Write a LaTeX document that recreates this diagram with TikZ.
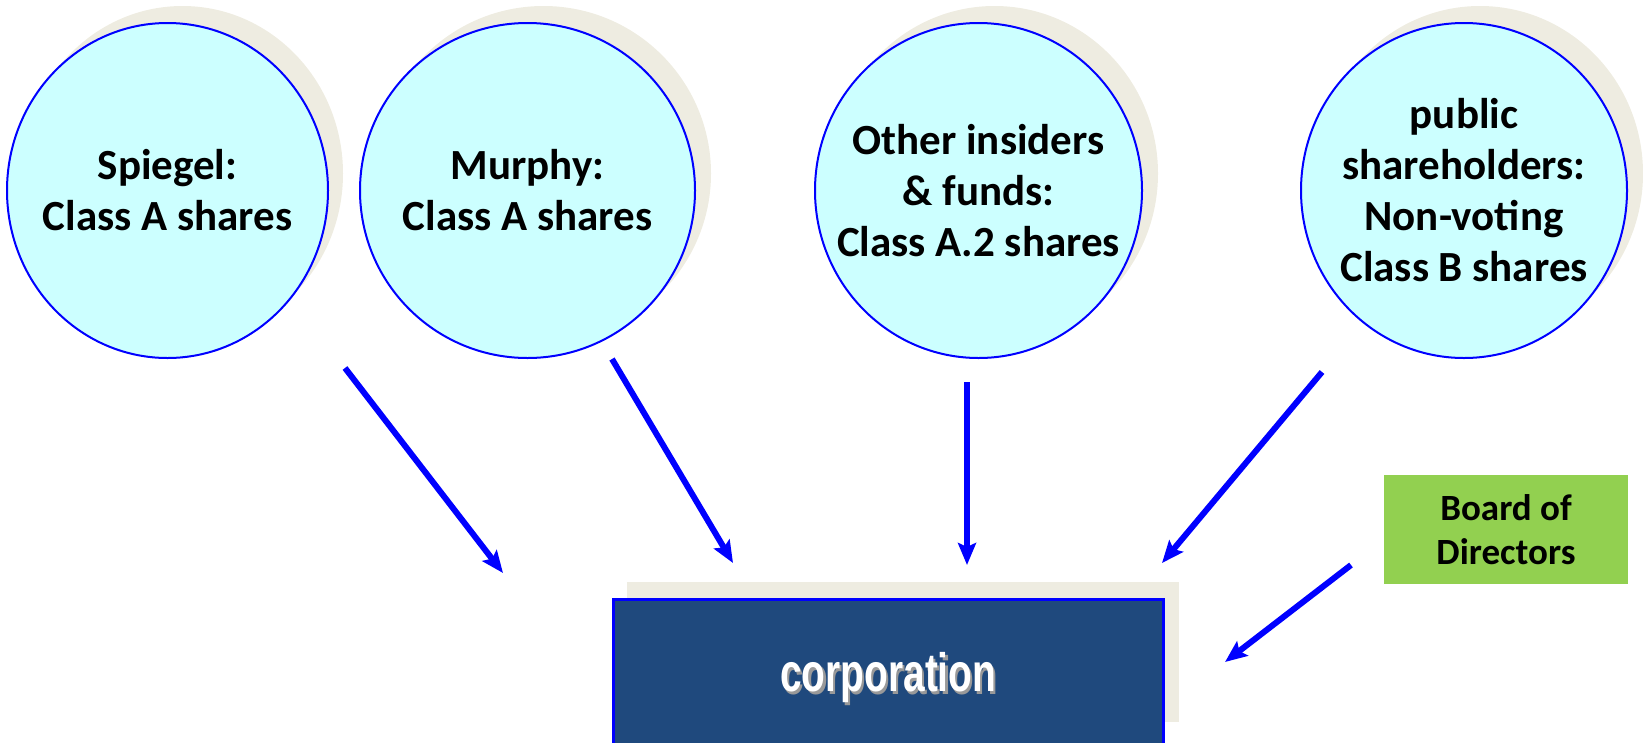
\documentclass[tikz,border=0pt]{standalone}
\usepackage{fontspec}
\setmainfont{Carlito}
\newfontfamily\corpfont{Liberation Sans}
\usepackage{graphicx}
\usepackage{tikz}
\usetikzlibrary{positioning}
\usetikzlibrary{calc}
\usetikzlibrary{shapes.geometric}
\usetikzlibrary{arrows.meta}
\definecolor{holder colour}{HTML}{CCFFFF}
\definecolor{edge colour}{HTML}{0000FF}
\definecolor{backdrop colour}{HTML}{EEECE1}
\definecolor{corp colour}{HTML}{1F497D}
\definecolor{board colour}{HTML}{92D050}
\colorlet{corp shadow colour}{black!40}
\tikzset{
    % A broad blue head on every connector
    >={Stealth[length=22pt,width=18pt,inset=4pt]},
%
    % Fills and outlines
    backdrop/.style={ellipse, fill=backdrop colour, inner sep=0, minimum height=335pt},
    holder/.style={ellipse, draw=edge colour, line width=2pt, fill=holder colour,
        inner sep=0, minimum height=335pt},
    holder text/.style={font=\fontsize{43}{51}\selectfont\bfseries},
    % Connectors
    flow/.style={draw=edge colour, line width=6pt, ->},
%
    % We almost always want centre aligned node text
    every node/.style={align=center},
}
% White lettering with a soft grey drop shadow
\newcommand{\corpword}[1]{%
    \scalebox{0.72}[1]{\corpfont\bfseries\fontsize{54}{60}\selectfont
    \rlap{\hspace{3pt}\raisebox{-3pt}{\textcolor{corp shadow colour}{#1}}}#1}}

\begin{document}
\begin{tikzpicture}[
    x=1pt, y=-1pt,
    backdrop box/.style={rectangle, fill=backdrop colour, inner sep=0, anchor=north west},
    corp box/.style={rectangle, draw=edge colour, line width=2.5pt, fill=corp colour,
        inner sep=0, anchor=north west},
    board box/.style={rectangle, fill=board colour, inner sep=0,
        minimum width=244pt, minimum height=109pt,
        font=\fontsize{37}{44}\selectfont\bfseries},
    ]

\useasboundingbox (0,0) rectangle (1643,742);

% Shareholder discs, each with its backdrop
\path
    (182.5,173.5) node (spiegel-back) [backdrop, minimum width=321pt] {}
    (167.5,190.5) node (spiegel) [holder, minimum width=321pt] {}
    node [holder text] at (spiegel) {Spiegel:\\Class A shares};

\path
    (543.5,173.5) node (murphy-back) [backdrop, minimum width=335pt] {}
    (527.5,190.5) node (murphy) [holder, minimum width=335pt] {}
    node [holder text] at (murphy) {Murphy:\\Class A shares};

\path
    (994.5,173.5) node (insiders-back) [backdrop, minimum width=327pt] {}
    (978.5,190.5) node (insiders) [holder, minimum width=327pt] {}
    node [holder text] at (insiders) {Other insiders\\\& funds:\\Class A.2 shares};

\path
    (1480,173.5) node (public-back) [backdrop, minimum width=326pt] {}
    (1464,190.5) node (public) [holder, minimum width=326pt] {}
    node [holder text] at (public)
        {public\\shareholders:\\Non-voting\\Class B shares};

% The corporation and its board
\path
    (627,582) node (corp-back) [backdrop box,
        minimum width=552pt, minimum height=140pt] {}
    (612,598) node (corp) [corp box,
        minimum width=550pt, minimum height=150pt] {}
    node [anchor=base, text=white] at ($(corp.north)+(0,93)$)
        {\corpword{corporation}};

\node (board) [board box] at (1506,529.5) {Board of\\Directors};

\coordinate (spiegel-out) at (345,368);
\coordinate (spiegel-in) at (503,573);
\coordinate (murphy-out) at (612,359);
\coordinate (murphy-in) at (733,563);
\coordinate (insiders-out) at (967,382);
\coordinate (insiders-in) at (967,565);
\coordinate (public-out) at (1322,372);
\coordinate (public-in) at (1162,563);
\coordinate (board-out) at (1351,565);
\coordinate (board-in) at (1225,662);

\draw [flow] (spiegel-out) -- (spiegel-in);
\draw [flow] (murphy-out) -- (murphy-in);
\draw [flow] (insiders-out) -- (insiders-in);
\draw [flow] (public-out) -- (public-in);
\draw [flow] (board-out) -- (board-in);

\end{tikzpicture}
\end{document}
